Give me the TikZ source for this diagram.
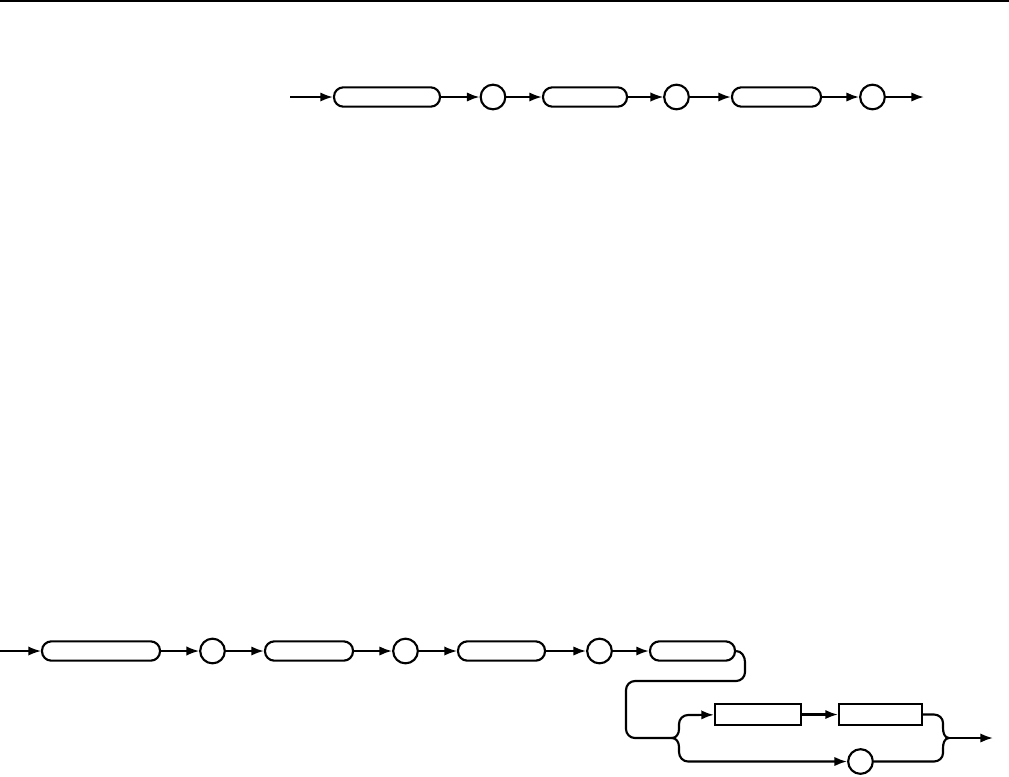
\documentclass[tikz,border=0pt]{standalone}
\usetikzlibrary{arrows.meta}
\begin{document}
\begin{tikzpicture}[x=0.75pt,y=-0.75pt,
  thk/.style={line width=1.6pt},
  thn/.style={line width=0.9pt},
  med/.style={line width=1.2pt},
  arr/.style={-{Latex[length=9.5pt,width=7pt]}},
  rbox/.style={draw,thk,rounded corners=7pt,minimum height=14.5pt,inner sep=0pt},
  sbox/.style={draw,thk,minimum height=15.5pt,inner sep=0pt},
  circ/.style={draw,thk,circle,minimum size=18.5pt,inner sep=0pt},
  ]
\useasboundingbox (0,0) rectangle (1009,776);
\draw[line width=1.5pt] (0,1) -- (1009,1);
% ---- top row
\coordinate (s1) at (290,97);
\node[rbox,minimum width=79.5pt] (b1) at (387,97) {};
\node[circ] (c1) at (493,97) {};
\node[rbox,minimum width=63pt] (b2) at (585,97) {};
\node[circ] (c2) at (676.5,97) {};
\node[rbox,minimum width=66.75pt] (b3) at (776.5,97) {};
\node[circ] (c3) at (872.5,97) {};
\coordinate (e1) at (924,97);
\draw[thk,arr] (s1) -- (b1);
\draw[thk,arr] (b1) -- (c1);
\draw[thk,arr] (c1) -- (b2);
\draw[thn,arr] (b2) -- (c2);
\draw[thk,arr] (c2) -- (b3);
\draw[thk,arr] (b3) -- (c3);
\draw[thk,arr] (c3) -- (e1);
% ---- bottom row
\coordinate (s2) at (0,651);
\node[rbox,minimum width=88.5pt] (B1) at (101,651) {};
\node[circ] (C1) at (212.5,651) {};
\node[rbox,minimum width=66pt] (B2) at (309,651) {};
\node[circ] (C2) at (405.5,651) {};
\node[rbox,minimum width=65.25pt] (B3) at (501.5,651) {};
\node[circ] (C3) at (599.5,651) {};
\node[rbox,minimum width=63.75pt] (B4) at (692.5,651) {};
\draw[med,arr] (s2) -- (B1);
\draw[med,arr] (B1) -- (C1);
\draw[thk,arr] (C1) -- (B2);
\draw[thk,arr] (B2) -- (C2);
\draw[med,arr] (C2) -- (B3);
\draw[thk,arr] (B3) -- (C3);
\draw[thk,arr] (C3) -- (B4);
% ---- branch
\node[sbox,minimum width=64.5pt] (R1) at (758,714.5) {};
\node[sbox,minimum width=62.25pt] (R2) at (880.5,714.5) {};
\node[circ] (C4) at (860.5,761.5) {};
\coordinate (J1) at (672,738);
\coordinate (J2) at (949,738);
\coordinate (e2) at (993,738);
\draw[thk] (B4.east) to[out=0,in=90] (745,662) -- (745,672)
  to[out=-90,in=0] (736,681) -- (635,681) to[out=180,in=90] (626,690)
  -- (626,729) to[out=-90,in=180] (635,738) -- (J1);
\draw[thk,arr] (J1) to[out=0,in=-90] (679,729) -- (679,724)
  to[out=90,in=180] (688,715) -- (R1);
\draw[thk,arr] (J1) to[out=0,in=90] (679,747) -- (679,752)
  to[out=-90,in=180] (688,761.5) -- (C4);
\draw[thk,arr] (R1) -- (R2);
\draw[thk] (R2.east) -- (934,714.5) to[out=0,in=90] (943,723) -- (943,728)
  to[out=-90,in=180] (J2);
\draw[thk] (C4.east) -- (934,761.5) to[out=0,in=-90] (943,753) -- (943,748)
  to[out=90,in=180] (J2);
\draw[thk,arr] (J2) -- (e2);
\end{tikzpicture}
\end{document}
